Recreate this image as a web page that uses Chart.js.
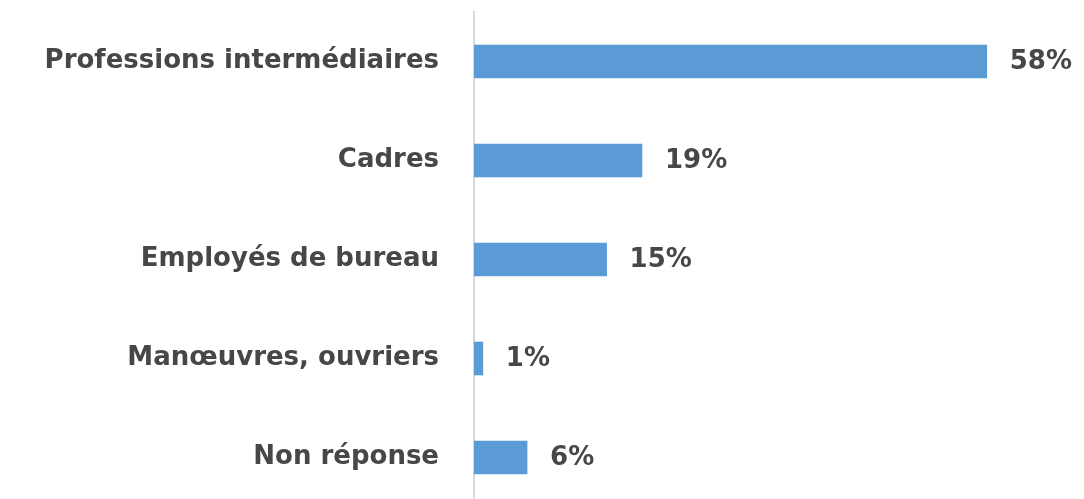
<!DOCTYPE html>
<html>
<head>
<meta charset="utf-8">
<script src="https://cdn.jsdelivr.net/npm/chart.js@4"></script>
<style>
  html, body { margin: 0; padding: 0; background: #fff; overflow: hidden; }
</style>
</head>
<body>
<canvas id="chart" width="1084" height="519"></canvas>
<script>
var categories = [
  "Professions intermédiaires",
  "Cadres",
  "Employés de bureau",
  "Manœuvres, ouvriers",
  "Non réponse"
];
var values = [58, 19, 15, 1, 6];
var valueLabels = ["58%", "19%", "15%", "1%", "6%"];

var textColor = "#474747";
var labelFont = { family: "DejaVu Sans", size: 26, weight: "bold", lineHeight: 0.92 };

// value labels at the end of each bar
var valueLabelPlugin = {
  id: "valueLabels",
  afterDatasetsDraw: function (chart) {
    var ctx = chart.ctx;
    var meta = chart.getDatasetMeta(0);
    ctx.save();
    ctx.fillStyle = textColor;
    ctx.font = "bold 26px 'DejaVu Sans'";
    ctx.textAlign = "left";
    ctx.textBaseline = "middle";
    meta.data.forEach(function (bar, i) {
      ctx.fillText(valueLabels[i], bar.x + 23, bar.y + 1);
    });
    ctx.restore();
  }
};

var element = document.getElementById("chart");
var chart = new Chart(element, {
  type: "bar",
  data: {
    labels: categories,
    datasets: [
      {
        data: values,
        backgroundColor: "#5b9bd5",
        barThickness: 33,
      },
    ],
  },
  options: {
    indexAxis: "y",
    responsive: false,
    animation: false,
    layout: {
      padding: 0,
    },
    plugins: {
      legend: { display: false },
      tooltip: { enabled: false },
    },
    scales: {
      x: {
        display: false,
        min: 0,
        max: 69,
      },
      y: {
        // tick marks are hidden, their length only pushes the labels left
        grid: { display: false, drawTicks: true, tickLength: 35 },
        border: { display: true, color: "#d9d9d9", width: 2 },
        ticks: {
          color: textColor,
          font: labelFont,
          padding: 0,
        },
        afterFit: function (scale) {
          scale.width = 474;
        },
      },
    },
  },
  plugins: [valueLabelPlugin],
});
</script>
</body>
</html>
